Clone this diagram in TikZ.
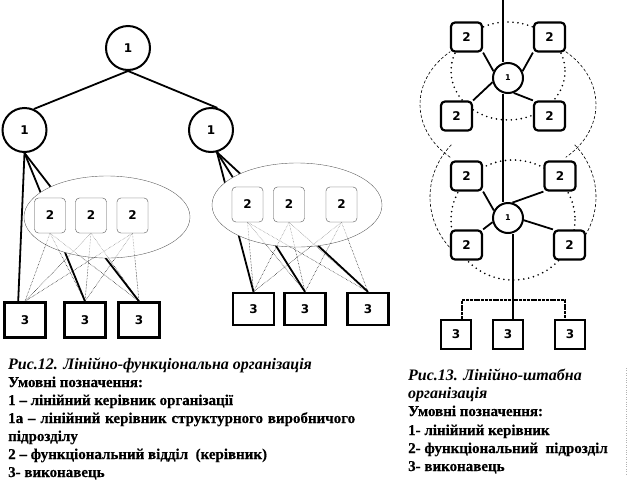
\documentclass[tikz,border=0pt]{standalone}
\usepackage{fontspec}
\setmainfont{Liberation Serif}[BoldFeatures={FakeBold=0.4}]
\newfontfamily\labelfont{DejaVu Sans}
\usetikzlibrary{calc}

\begin{document}
\begin{tikzpicture}[x=1pt,y=-1pt,
  lead/.style={circle,draw,line width=2pt,fill=white,inner sep=0pt,minimum size=44pt,font=\labelfont\bfseries\fontsize{12}{12}\selectfont},
  chief/.style={lead,minimum size=30pt,font=\labelfont\bfseries\fontsize{8}{8}\selectfont},
  dept/.style={draw=gray!80!black,rounded corners=4pt,fill=white,minimum width=31pt,minimum height=35pt,inner sep=0pt,font=\labelfont\bfseries\fontsize{12}{12}\selectfont},
  worker/.style={draw,line width=2.4pt,fill=white,minimum width=41pt,minimum height=35pt,inner sep=0pt,font=\labelfont\bfseries\fontsize{12}{12}\selectfont},
  staff/.style={draw,line width=2.2pt,rounded corners=4pt,fill=white,minimum width=31pt,minimum height=29pt,inner sep=0pt,font=\labelfont\bfseries\fontsize{12}{12}\selectfont},
  cell/.style={draw,line width=2.2pt,fill=white,minimum width=30pt,minimum height=29pt,inner sep=0pt,font=\labelfont\bfseries\fontsize{12}{12}\selectfont},
  link/.style={line width=1.8pt},
  trace/.style={densely dotted,line width=0.5pt},
  ring/.style={line width=1.8pt,line cap=round,dash pattern=on 0pt off 5pt},
  halo/.style={line width=0.6pt,dash pattern=on 3pt off 2pt},
  bus/.style={line width=1.8pt,dash pattern=on 3pt off 0.8pt},
  caption/.style={anchor=base west,inner sep=0pt,font=\bfseries\itshape\fontsize{16}{18}\selectfont},
  legend/.style={anchor=base west,inner sep=0pt,font=\bfseries\fontsize{15}{17}\selectfont}]

\useasboundingbox (0,0) rectangle (630,491);

\node[lead] (t) at (128,48) {1};
\node[lead] (l) at (24.5,130) {1};
\node[lead] (r) at (211,130) {1};

\foreach \n/\x in {1/25,2/85,3/139} \node[worker] (w\n) at (\x,320) {3};
\foreach \n/\x in {4/253.5,5/305,6/368} \node[worker,minimum height=32pt] (w\n) at (\x,309) {3};

\draw[link] (t.south) -- (l.66);
\draw[link] (t.south) -- (r.74);
\draw[link] (l.south) -- (w1.110);
\draw[link] (l.south) -- (w2.north);
\draw[link] (l.south) -- (w3.north);
\draw[link] (r.-75) -- (w4.north);
\draw[link] (r.-75) -- (w5.north);
\draw[link] (r.-75) -- (w6.north);

\draw[gray!70!black,fill=white] (107,217) ellipse [x radius=83,y radius=41];
\draw[gray!70!black,fill=white] (297,205) ellipse [x radius=85,y radius=42];

\foreach \n/\x in {1/50,2/91,3/132.5} \node[dept] (d\n) at (\x,215.5) {2};
\foreach \n/\x in {4/247.5,5/289,6/341.5} \node[dept] (d\n) at (\x,204.5) {2};

\foreach \a in {1,2,3} \foreach \b in {1,2,3} \draw[trace] (d\a.south) -- (w\b.north);
\foreach \a in {4,5,6} \foreach \b in {4,5,6} \draw[trace] (d\a.south) -- (w\b.north);

\fill[white,opacity=0.5] (107,217) ellipse [x radius=82.5,y radius=40.5];
\fill[white,opacity=0.5] (297,205) ellipse [x radius=84.5,y radius=41.5];
\foreach \n in {1,...,6} \node[dept] at (d\n) {2};

\coordinate (axis) at (503,0);
\coordinate (stem) at (513,300);
\coordinate (bar l) at (462,300);
\coordinate (bar r) at (565,300);

\draw[ring] (508,71) ellipse [x radius=57,y radius=49];
\draw[ring] (513,220) ellipse [x radius=62,y radius=60];

\draw[halo] (508,104.5) ++(131:88 and 70) arc[start angle=131,end angle=229,x radius=88,y radius=70];
\draw[halo] (508,104.5) ++(-49:88 and 70) arc[start angle=-49,end angle=49,x radius=88,y radius=70];
\draw[halo] (513,197) ++(140:83 and 78) arc[start angle=140,end angle=222,x radius=83,y radius=78];
\draw[halo] (513,197) ++(-42:83 and 78) arc[start angle=-42,end angle=40,x radius=83,y radius=78];

\node[chief] (c1) at (508,78) {1};
\node[chief] (c2) at (508,218) {1};

\node[staff] (s1) at (466.5,37) {2};
\node[staff] (s2) at (549.5,37) {2};
\node[staff] (s3) at (456.5,116) {2};
\node[staff] (s4) at (549.5,116) {2};
\node[staff] (s5) at (466.5,176) {2};
\node[staff] (s6) at (560,176) {2};
\node[staff] (s7) at (466.5,245) {2};
\node[staff] (s8) at (569.5,245) {2};

\foreach \n/\x in {1/456,2/508,3/570} \node[cell] (k\n) at (\x,334.5) {3};

\draw[link] (axis) -- (c1.north -| axis);
\draw[link] (c1.south -| axis) -- (c2.north -| axis);
\draw[link] (c2.south -| stem) -- (k2.north -| stem);
\draw[bus] (k1.north -| bar l) -- (bar l) -- (bar r) -- (k3.north -| bar r);

\draw[link] (c1.155) -- (s1.south east);
\draw[link] (c1.25) -- (s2.south west);
\draw[link] (c1.195) -- (s3.north east);
\draw[link] (c1.-69) -- (s4.north west);
\draw[link] (c2.152) -- (s5.south east);
\draw[link] (c2.74) -- (s6.south west);
\draw[link] (c2.195) -- (s7.north east);
\draw[link] (c2.-8) -- (s8.north west);

\node[caption] (cap12) at (8,369) {Рис.12. Лінійно-функціональна організація};
\node[legend] (key12) at (8,387) {Умовні позначення:};
\node[legend] (a12) at (8,405) {1 – лінійний керівник організації};
\node[legend] (b12) at (8,423) {\makebox[347pt][s]{1а – лінійний керівник структурного виробничого}};
\node[legend] (c12) at (8,441) {підрозділу};
\node[legend] (d12) at (8,459) {2 – функціональний відділ \ (керівник)};
\node[legend] (e12) at (8,477) {3- виконавець};

\node[caption] (cap13) at (408,380) {Рис.13. Лінійно-штабна};
\node[caption] (cap13b) at (408,398) {організація};
\node[legend] (key13) at (408,416) {Умовні позначення:};
\node[legend] (a13) at (408,435) {1- лінійний керівник};
\node[legend] (b13) at (408,453) {2- функціональний \ підрозділ};
\node[legend] (c13) at (408,471) {3- виконавець};

\draw[gray!60,dotted] (626,368) -- (626,475);
\end{tikzpicture}
\end{document}
